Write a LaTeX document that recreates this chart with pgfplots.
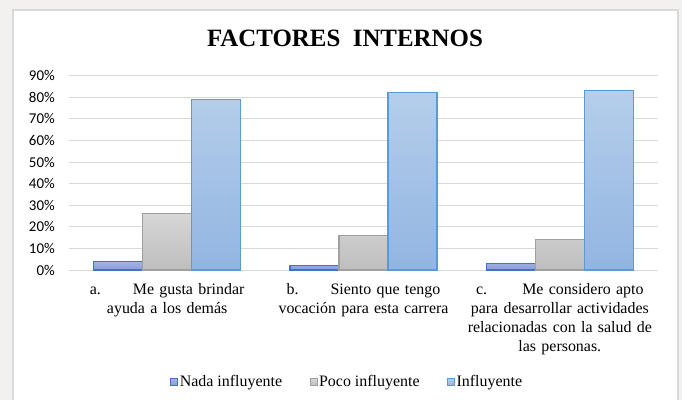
\documentclass[border=0pt]{standalone}
\usepackage{pgfplots}
\pgfplotsset{compat=1.18}
\usepackage{fontspec}
\setmainfont{Liberation Serif}
\newfontfamily\calibri{Carlito}
\definecolor{bggray}{HTML}{F2F1EF}
\definecolor{framegray}{HTML}{D9D9D9}
\definecolor{gridgray}{HTML}{D9D9D9}
\definecolor{nadaT}{HTML}{A6B3E3}
\definecolor{nadaB}{HTML}{8A9BD6}
\definecolor{nadaL}{HTML}{4472C4}
\definecolor{pocoT}{HTML}{D6D6D6}
\definecolor{pocoB}{HTML}{BEBEBE}
\definecolor{pocoL}{HTML}{A0A0A0}
\definecolor{inflT}{HTML}{B5CEEB}
\definecolor{inflB}{HTML}{92B5E1}
\definecolor{inflL}{HTML}{5B9BD5}
\begin{document}
\begin{tikzpicture}
\fill[bggray] (-69bp,-130bp) rectangle (613bp,270bp);
\filldraw[fill=white, draw=framegray, line width=1.2bp] (-56bp,-135bp) rectangle (609bp,260bp);
\node[font=\bfseries\fontsize{25}{25}\selectfont, anchor=base] at (276bp,223bp) {FACTORES\ \ INTERNOS};
\begin{axis}[
  at={(0bp,0bp)}, anchor=south west,
  width=589bp, height=194.4bp, scale only axis,
  xmin=-0.5, xmax=2.5, ymin=0, ymax=90,
  ybar=0pt, bar width=49bp,
  separate axis lines,
  axis x line*=bottom, axis y line*=left,
  x axis line style={draw=gridgray, line width=1bp, -},
  y axis line style={draw=none},
  major tick length=0pt, tick style={draw=none},
  ymajorgrids, grid style={draw=gridgray, line width=1bp},
  ytick={0,10,...,90},
  yticklabels={0\%,10\%,20\%,30\%,40\%,50\%,60\%,70\%,80\%,90\%},
  yticklabel style={font=\calibri\fontsize{15}{15}\selectfont, anchor=east, inner sep=0pt, xshift=-14bp},
  xtick={0,1,2},
  xticklabels={
    {a.\hspace{2em}Me gusta brindar\\ayuda a los demás},
    {b.\hspace{2em}Siento que tengo\\vocación para esta carrera},
    {c.\hspace{2.2em}Me considero apto\\para desarrollar actividades\\relacionadas con la salud de\\las personas.}},
  xticklabel style={font=\fontsize{16}{19}\selectfont, text width=200bp, align=center, anchor=north, inner sep=0pt, yshift=-13bp},
  legend columns=3,
  legend style={at={(0.472,-0.576)}, anchor=center, draw=none, fill=none,
    font=\fontsize{16}{16}\selectfont,
    /tikz/every even column/.append style={column sep=26bp},
    nodes={inner sep=1.5bp}},
  legend image code/.code={\draw[#1, line width=1bp] (0bp,-3.5bp) rectangle (7bp,3.5bp);},
]
\addplot[draw=nadaL, line width=1.2bp, top color=nadaT, bottom color=nadaB] coordinates {(0,4) (1,2) (2,3)};
\addplot[draw=pocoL, line width=1.2bp, top color=pocoT, bottom color=pocoB] coordinates {(0,26) (1,16) (2,14)};
\addplot[draw=inflL, line width=1.2bp, top color=inflT, bottom color=inflB] coordinates {(0,79) (1,82) (2,83)};
\legend{Nada influyente, Poco influyente, Influyente}
\end{axis}
\pgfresetboundingbox
\useasboundingbox (-69bp,-130bp) rectangle (613bp,270bp);
\end{tikzpicture}
\end{document}
